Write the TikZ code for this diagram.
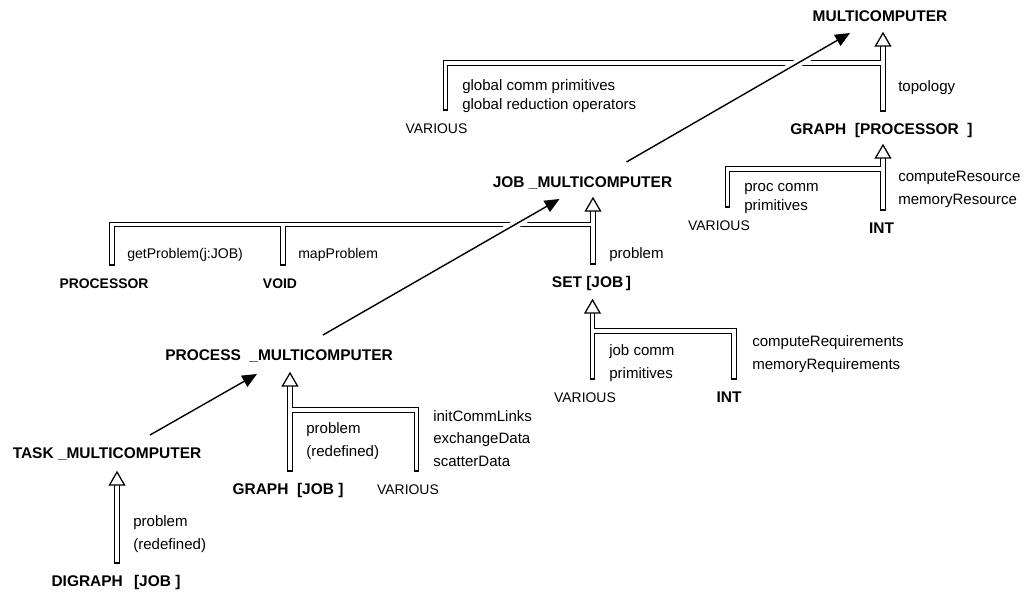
\documentclass[tikz,border=0pt]{standalone}
\usepackage{fontspec}
\setmainfont{Liberation Sans}
\usetikzlibrary{arrows.meta}
\tikzset{openhead/.pic={\draw[line width=0.9pt,fill=white] (-7.5,0) -- (0,-13) -- (7.5,0) -- cycle;}}

\begin{document}
\begin{tikzpicture}[x=0.025cm,y=-0.025cm,
  class/.style={font=\fontsize{11pt}{12pt}\selectfont\bfseries, text height=7.88pt, text depth=0pt, inner xsep=0pt, inner ysep=10.23pt},
  smallclass/.style={class, font=\fontsize{9.9pt}{12pt}\selectfont\bfseries},
  various/.style={class, font=\fontsize{9.9pt}{12pt}\selectfont},
  feat/.style={font=\fontsize{10.7pt}{15.8pt}\selectfont, align=left, anchor=base west, inner sep=0pt},
  tightfeat/.style={feat, font=\fontsize{10.7pt}{13.5pt}\selectfont},
  smallfeat/.style={feat, font=\fontsize{10pt}{12pt}\selectfont},
  client/.style={double, double distance=2.3pt, line width=0.9pt, line cap=rect},
  inherit/.style={line width=1pt, -{Triangle[length=10.5pt,width=9pt]}, preaction={draw=white, line width=6pt, -}}]
\useasboundingbox (0,0) rectangle (1025,592);

% classes
\node[class] (multi) at (880,16) {MULTICOMPUTER};
\node[class] (gproc) at (881.5,129) {GRAPH\ \ [PROCESSOR\ \ ]};
\node[class] (jobmc) at (582.5,182) {JOB \_MULTICOMPUTER};
\node[smallclass] (processor) at (104,283) {PROCESSOR};
\node[smallclass] (void) at (280,283) {VOID};
\node[class] (setjob) at (591.5,282) {SET [JOB\,]};
\node[class] (pmc) at (279,355) {PROCESS\ \ \_MULTICOMPUTER};
\node[class] (tmc) at (107,453) {TASK \_MULTICOMPUTER};
\node[class] (gjob) at (288,489) {GRAPH\ \ [JOB\ ]};
\node[class] (digraph) at (116,581) {DIGRAPH\ \ \,[JOB\ ]};
\node[class] (int2) at (881.5,228) {INT};
\node[class] (int3) at (729,397) {INT};
\node[various] (various1) at (436.5,128) {VARIOUS};
\node[various] (various2) at (719,225) {VARIOUS};
\node[various] (various3) at (585,397) {VARIOUS};
\node[various] (various4) at (408,489) {VARIOUS};

% features (placed at the baseline of the last line)
\node[tightfeat] (glob) at (462,109) {global comm primitives\\global reduction operators};
\node[feat] (topo) at (898,91) {topology};
\node[tightfeat] (pcomm) at (744,210) {proc comm\\primitives};
\node[feat] (res) at (898,204) {computeResource\\memoryResource};
\node[smallfeat] (getp) at (127,258) {getProblem(j:JOB)};
\node[smallfeat] (mapp) at (298,258) {mapProblem};
\node[feat] (setp) at (609,258) {problem};
\node[feat] (jcomm) at (609,378) {job comm\\primitives};
\node[feat] (req) at (752,369) {computeRequirements\\memoryRequirements};
\node[feat] (pred) at (306,456) {problem\\(redefined)};
\node[feat] (comm) at (433,466) {initCommLinks\\exchangeData\\scatterData};
\node[feat] (dred) at (133,549) {problem\\(redefined)};

\coordinate (inM) at (883,46);   \coordinate (jM) at (883,63);
\coordinate (inG) at (883,158);  \coordinate (jG) at (883,169);
\coordinate (inJ) at (593,211);  \coordinate (jJ) at (593,224.5);
\coordinate (inS) at (592.5,313);\coordinate (jS) at (592.5,331);
\coordinate (inP) at (290,386);  \coordinate (jP) at (290,410);
\coordinate (inT) at (117,485);

% client relations
\draw[client] (inM |- gproc.north) -- (inM)
  ([shift={(9,0)}]various1.north) |- (jM);
\draw[client] (inG |- int2.north) -- (inG)
  ([shift={(8.5,0)}]various2.north) |- (jG);
\draw[client] (inJ |- setjob.north) -- (inJ)
  ([shift={(8,0)}]processor.north) |- (jJ)
  ([shift={(3,0)}]void.north) |- (jJ);
\draw[client] (inS |- various3.north) -- (inS)
  ([shift={(5,0)}]int3.north) |- (jS);
\draw[client] (inP |- gjob.north) -- (inP)
  ([shift={(8.5,0)}]various4.north) |- (jP);
\draw[client] (inT |- digraph.north) -- (inT);
\foreach \h in {inM,inG,inJ,inS,inP,inT}
  \pic at (\h) {openhead};

% inheritance
\draw[inherit] ([shift={(44,-20)}]jobmc.center) -- ([shift={(-30,17)}]multi.center);
\draw[inherit] ([shift={(44,-20)}]pmc.center) -- ([shift={(-23,17)}]jobmc.center);
\draw[inherit] ([shift={(43,-18)}]tmc.center) -- ([shift={(-22,19)}]pmc.center);
\end{tikzpicture}
\end{document}
